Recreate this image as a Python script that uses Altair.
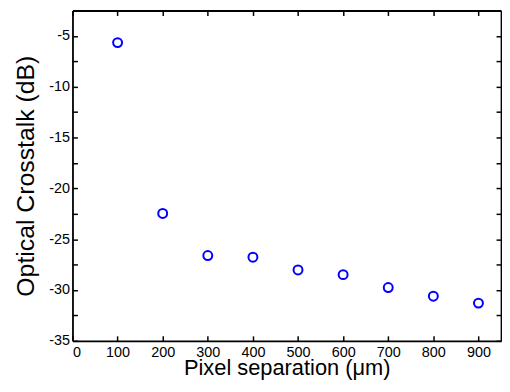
import altair as alt
import pandas as pd

separation = [100, 200, 300, 400, 500, 600, 700, 800, 900]
crosstalk = [-5.66, -22.47, -26.61, -26.77, -28.03, -28.49, -29.76, -30.61, -31.29]

x_ticks = [0, 100, 200, 300, 400, 500, 600, 700, 800, 900]
y_ticks = [-35, -32.5, -30, -27.5, -25, -22.5, -20, -17.5, -15, -12.5, -10, -7.5, -5]
x_range = [0, 950]
y_range = [-35, -2.5]

df = pd.DataFrame({"sep": separation, "ct": crosstalk})

FONT = "Liberation Sans"
xscale = alt.Scale(domain=x_range, nice=False, zero=False)
yscale = alt.Scale(domain=y_range, nice=False, zero=False)

common_axis = dict(domain=False, grid=False, tickColor="black", tickWidth=1.5,
                   tickSize=5, offset=-5, labelFont=FONT, titleFont=FONT,
                   labelColor="black", titleColor="black", labelFontSize=14.5)

frame_axis = dict(domain=True, domainColor="black", domainWidth=1.8, ticks=False,
                  labels=False, title=None, grid=False, offset=0)

main = alt.Chart(df).mark_point(shape="circle", filled=False, size=81, opacity=1,
                                strokeWidth=2, color="#0000FF").encode(
    x=alt.X("sep:Q", scale=xscale,
            axis=alt.Axis(orient="bottom", values=x_ticks, format="d",
                          title="Pixel separation (\u03bcm)", titleFontSize=22,
                          titleFontWeight="normal", labelPadding=5, titlePadding=-2,
                          **common_axis)),
    y=alt.Y("ct:Q", scale=yscale,
            axis=alt.Axis(orient="left", values=y_ticks,
                          labelExpr="datum.value % 5 == 0 ? '' + datum.value : ''",
                          title="Optical Crosstalk (dB)", titleFontSize=25,
                          titleFontWeight="normal", labelPadding=3, titlePadding=10,
                          **common_axis)),
)

ghost = alt.Chart(df).mark_point(opacity=0).encode(
    x=alt.X("sep:Q", scale=xscale,
            axis=alt.Axis(orient="top", values=x_ticks, labels=False, title=None,
                          **common_axis)),
    y=alt.Y("ct:Q", scale=yscale,
            axis=alt.Axis(orient="right", values=y_ticks, labels=False, title=None,
                          **common_axis)),
)

frame_a = alt.Chart(df).mark_point(opacity=0).encode(
    x=alt.X("sep:Q", scale=xscale, axis=alt.Axis(orient="bottom", **frame_axis)),
    y=alt.Y("ct:Q", scale=yscale, axis=alt.Axis(orient="left", **frame_axis)),
)

frame_b = alt.Chart(df).mark_point(opacity=0).encode(
    x=alt.X("sep:Q", scale=xscale, axis=alt.Axis(orient="top", **frame_axis)),
    y=alt.Y("ct:Q", scale=yscale, axis=alt.Axis(orient="right", **frame_axis)),
)

chart = alt.layer(main, ghost, frame_a, frame_b).resolve_axis(
    x="independent", y="independent"
).properties(
    width=432, height=333,
    background="white",
    autosize=alt.AutoSizeParams(type="none"),
    padding={"left": 65, "top": 1, "right": 1, "bottom": 40},
)

chart.save("out.html", embed_options={"renderer": "svg", "actions": False})
